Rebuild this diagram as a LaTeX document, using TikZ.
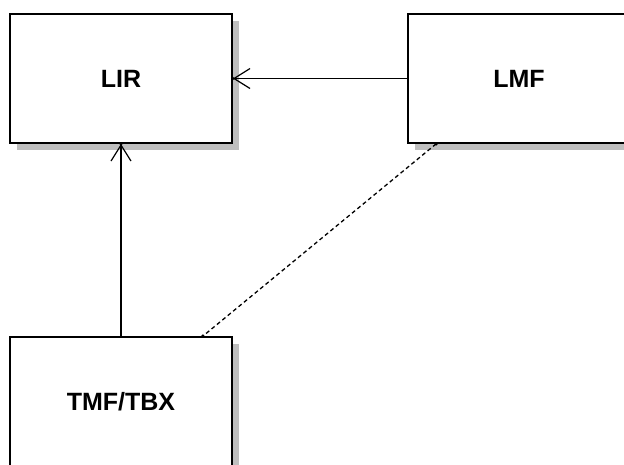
\documentclass[tikz,border=0pt]{standalone}
\usepackage{fontspec}
\setmainfont{Liberation Sans}
\usetikzlibrary{arrows.meta,shadows,calc}
\begin{document}
\begin{tikzpicture}[x=1pt,y=1pt,
  box/.style={draw=black, line width=1.8pt, fill=white, minimum width=222pt, minimum height=129pt,
    inner sep=0pt, font=\fontsize{25}{30}\selectfont\bfseries,
    drop shadow={shadow xshift=7pt, shadow yshift=-7pt, fill=black!25, opacity=1, draw=none}},
  link/.style={draw=black, line width=1.3pt},
  barb/.style={-{Straight Barb[length=16pt,width=20pt,line width=1.2pt]}},
  enddot/.style={fill=black, inner sep=0pt, minimum size=3.6pt, circle}
]
\clip (0,0) rectangle (624,-464);
\fill[white] (0,0) rectangle (624,-464);
\node[box] (lir) at (121,-78.5) {LIR};
\node[box] (lmf) at (519,-78.5) {LMF};
\node[box] (tmf) at (121,-401.5) {TMF/TBX};
\coordinate (dA) at ($(lmf.south west)+(29pt,0)$);
\coordinate (dB) at ($(tmf.north east)+(-30pt,0)$);
\draw[link,barb] (lmf.west) -- (lir.east);
\draw[link,barb] (tmf.north) -- (lir.south);
\draw[link,dash pattern=on 4pt off 3pt] (dA) -- (dB);
\node[enddot] (p1) at (lir.east) {};
\node[enddot] (p2) at (lir.south) {};
\node[enddot] (p3) at (dA) {};
\node[enddot] (p4) at (dB) {};
\end{tikzpicture}
\end{document}
